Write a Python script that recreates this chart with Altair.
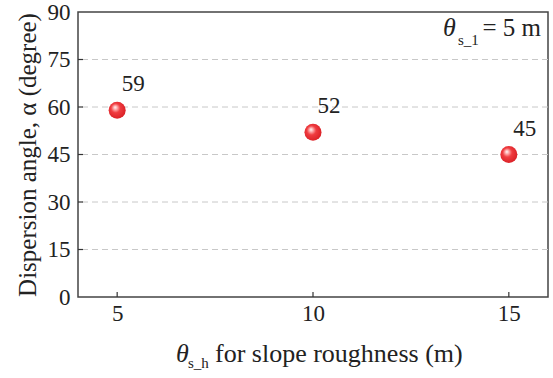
import altair as alt
import pandas as pd

# data
roughness = [5, 10, 15]
dispersion = [59, 52, 45]
x_ticks = [5, 10, 15]
y_ticks = [0, 15, 30, 45, 60, 75, 90]
grid_vals = [15, 30, 45, 60, 75]
y_title = "Dispersion angle, α (degree)"
x_title_sym = ["θ"]
x_title_sub = ["s_h"]
x_title_rest = ["for slope roughness (m)"]
ann_sym = ["θ"]
ann_sub = ["s_1"]
ann_rest = ["= 5 m"]

W, H = 470, 285
FONT = "Liberation Serif"

df = pd.DataFrame({"x": roughness, "y": dispersion})
xs = alt.Scale(domain=[4, 16], nice=False, zero=False)
ys = alt.Scale(domain=[0, 90], nice=False)

x_axis = alt.Axis(values=x_ticks, title=None, grid=False, ticks=False, domain=False,
                  labelFontSize=23, labelFont=FONT, labelColor="#222", labelPadding=5)
y_axis = alt.Axis(values=y_ticks, title=y_title, grid=False, ticks=False, domain=False,
                  labelFontSize=23, labelFont=FONT, labelColor="#222", labelPadding=8,
                  titleFont=FONT, titleFontSize=25, titleFontWeight="normal", titleColor="#222",
                  titleX=-43, titleY=H / 2, titleAngle=-90, titleAlign="center",
                  titleBaseline="alphabetic")

base = alt.Chart(df)

grid = alt.Chart(pd.DataFrame({"g": grid_vals})).mark_rule(
    color="#c8c8c8", strokeWidth=1, strokeDash=[6, 4]
).encode(y=alt.Y("g:Q", scale=ys, axis=y_axis))

yt = alt.Chart(pd.DataFrame({"g": grid_vals})).mark_rule(color="#333", strokeWidth=1.2).encode(
    y=alt.Y("g:Q", scale=ys), x=alt.value(0), x2=alt.value(5))

xt = alt.Chart(pd.DataFrame({"t": x_ticks})).mark_rule(color="#333", strokeWidth=1.2).encode(
    x=alt.X("t:Q", scale=xs, axis=x_axis), y=alt.value(H), y2=alt.value(H - 5))

grad = alt.RadialGradient(
    gradient="radial",
    stops=[alt.GradientStop(offset=0, color="#ffffff"),
           alt.GradientStop(offset=0.18, color="#ffb0b0"),
           alt.GradientStop(offset=0.45, color="#f03c40"),
           alt.GradientStop(offset=1, color="#d81e24")],
    x1=0.38, y1=0.33, r1=0, x2=0.45, y2=0.45, r2=0.6)

pts = base.mark_point(filled=True, size=290, shape="circle", fill=grad, opacity=1,
                      strokeWidth=0).encode(
    x=alt.X("x:Q", scale=xs), y=alt.Y("y:Q", scale=ys))

labels = base.mark_text(font=FONT, fontSize=23, color="#222", dx=16, dy=-19,
                        baseline="alphabetic").encode(
    x=alt.X("x:Q", scale=xs), y=alt.Y("y:Q", scale=ys), text=alt.Text("y:Q"))


def txt(vals, x, y, size, align="left", style="normal"):
    return alt.Chart(pd.DataFrame({"t": vals})).mark_text(
        font=FONT, fontSize=size, color="#222", align=align, baseline="alphabetic",
        fontStyle=style).encode(text="t:N", x=alt.value(x), y=alt.value(y))


xt1 = txt(x_title_sym, 98, 350, 26, style="italic")
xt2 = txt(x_title_sub, 110, 356, 15)
xt3 = txt(x_title_rest, 137, 350, 26)

a1 = txt(ann_sym, 365, 24, 26, style="italic")
a2 = txt(ann_sub, 380, 33, 15)
a3 = txt(ann_rest, 463, 24, 25, align="right")

chart = alt.layer(grid, yt, xt, pts, labels, xt1, xt2, xt3, a1, a2, a3).properties(
    width=W, height=H,
    autosize=alt.AutoSizeParams(type="none"),
    padding={"left": 78, "top": 12, "right": 5, "bottom": 81},
).configure(
    font=FONT, background="white",
    view=alt.ViewConfig(stroke="#444", strokeWidth=1.5),
)

chart.save("out.html", embed_options={"renderer": "svg", "actions": False})
